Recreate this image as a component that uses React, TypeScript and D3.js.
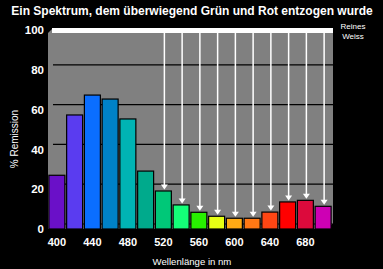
import React from "react";
import * as d3 from "d3";

const wavelengths = [400, 420, 440, 460, 480, 500, 520, 540, 560, 580, 600, 620, 640, 660, 680, 700];
const remission = [27, 57.3, 67.3, 65.3, 55.3, 29.1, 19.1, 12.1, 8.4, 6.4, 5.4, 5.4, 8.5, 13.6, 14.4, 11.4];
const barColors = [
  "#6a10c8", "#5a3cf0", "#0a6eff", "#0082c8", "#00b4b4", "#00aa8c", "#00c878", "#14ff78",
  "#28f000", "#e6ff14", "#ffaa14", "#ff7814", "#ff4614", "#ff0000", "#dc0a3c", "#cd00b4",
];
const arrowFrom = 520; // arrows for removed wavelengths
const yTicks = [0, 20, 40, 60, 80, 100];
const xTickLabels = [400, 440, 480, 520, 560, 600, 640, 680];
const title = "Ein Spektrum, dem überwiegend Grün und Rot entzogen wurde";
const yTitle = "% Remission";
const xTitle = "Wellenlänge in nm";
const whiteLabel = ["Reines", "Weiss"];

export default function App() {
  const W = 383, H = 269;
  const left = 48, right = 333, top = 28, bottom = 229;
  const depth = 5;
  const x = d3.scaleBand<number>().domain(wavelengths).range([left, right - 1]).paddingInner(0.1).paddingOuter(0.05);
  const y = d3.scaleLinear().domain([0, 100]).range([bottom, 30]);
  const font = "'Liberation Sans', Arial, sans-serif";
  const bw = x.bandwidth();

  const plotPoly = [
    [left, top + depth], [left + depth, top], [right, top], [right, bottom - depth],
    [right - depth, bottom], [left, bottom],
  ].map((p) => p.join(",")).join(" ");

  return (
    <svg width={W} height={H} style={{ position: "absolute", left: 0, top: 0, background: "#000" }}>
      <rect x={0} y={0} width={W} height={H} fill="#000" />
      <text x={192} y={15} textAnchor="middle" fill="#fff" fontFamily={font} fontWeight="bold" fontSize={12}>
        {title}
      </text>
      <polygon points={plotPoly} fill="#808080" />
      {yTicks.filter((t) => t > 0 && t < 100).map((t) => (
        <line key={t} x1={left + depth} x2={right} y1={y(t) - depth} y2={y(t) - depth} stroke="#000" strokeWidth={1.2} />
      ))}
      <line x1={left + depth} x2={right} y1={y(0) - depth} y2={y(0) - depth} stroke="#000" strokeWidth={1.2} />
      <line x1={right} x2={right - depth} y1={bottom - depth} y2={bottom} stroke="#000" strokeWidth={1} />
      <rect x={left + depth - 1} y={top} width={right - left - depth + 1} height={5} fill="#fff" />
      {wavelengths.map((w, i) => (
        <rect key={w} x={x(w)!} y={y(remission[i])} width={bw} height={bottom - y(remission[i])} fill={barColors[i]} stroke="#000" strokeWidth={1.2} />
      ))}
      {wavelengths.map((w, i) => {
        if (w < arrowFrom) return null;
        const cx = x(w)! + bw / 2 + 1;
        const tip = y(remission[i]) - 1.5;
        return (
          <g key={"a" + w}>
            <line x1={cx} x2={cx} y1={top + 5} y2={tip - 4} stroke="#fff" strokeWidth={1.5} />
            <polygon points={`${cx - 3.5},${tip - 5} ${cx + 3.5},${tip - 5} ${cx},${tip}`} fill="#fff" />
          </g>
        );
      })}
      {yTicks.map((t) => (
        <text key={t} x={44} y={y(t)} dy="0.36em" textAnchor="end" fill="#fff" fontFamily={font} fontWeight="bold" fontSize={11.5}>
          {t}
        </text>
      ))}
      {xTickLabels.map((w) => (
        <text key={w} x={x(w)! + bw / 2} y={246} textAnchor="middle" fill="#fff" fontFamily={font} fontWeight="bold" fontSize={11}>
          {w}
        </text>
      ))}
      <text transform={`translate(18,139) rotate(-90)`} textAnchor="middle" fill="#fff" fontFamily={font} fontSize={10}>
        {yTitle}
      </text>
      <text x={192} y={265} textAnchor="middle" fill="#fff" fontFamily={font} fontSize={9.6}>
        {xTitle}
      </text>
      {whiteLabel.map((s, i) => (
        <text key={s} x={353} y={29 + i * 10} textAnchor="middle" fill="#fff" fontFamily={font} fontSize={8}>
          {s}
        </text>
      ))}
    </svg>
  );
}
